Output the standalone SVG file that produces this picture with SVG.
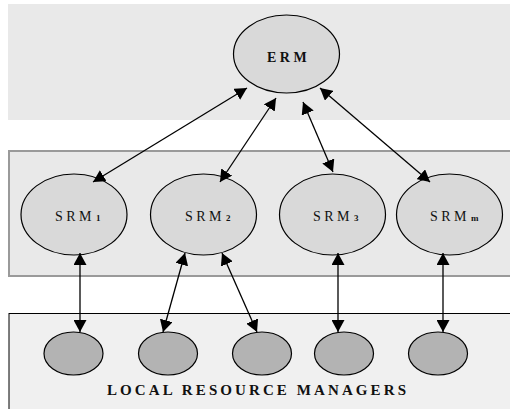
<svg xmlns="http://www.w3.org/2000/svg" width="510" height="409" viewBox="0 0 510 409">
<defs>
<marker id="ah" viewBox="0 0 12 13" refX="12" refY="6.5" markerWidth="12" markerHeight="13" markerUnits="userSpaceOnUse" orient="auto-start-reverse">
<path d="M0,0 L12,6.5 L0,13 Z" fill="#000"/>
</marker>
<style>
.big{fill:#d9d9d9;stroke:#000;stroke-width:1.2}
.small{fill:#b3b3b3;stroke:#000;stroke-width:1.2}
.lbl{font-family:"Liberation Serif",serif;font-size:14px;letter-spacing:3.5px;fill:#111}
.sub{font-size:9px;font-weight:bold;letter-spacing:0}
.conn line{stroke:#000;stroke-width:1.3;marker-start:url(#ah);marker-end:url(#ah)}
</style>
</defs>
<rect width="510" height="409" fill="#fff"/>
<rect id="panel-top" x="8" y="4" width="503" height="116" fill="#e9e9e9"/>
<rect id="panel-mid" x="9" y="151" width="503" height="125" fill="#e9e9e9" stroke="#9a9a9a" stroke-width="2"/>
<rect id="panel-bot" x="9" y="313.5" width="503" height="100" fill="#f0f0f0" stroke="#000" stroke-width="1"/>
<g id="erm"><ellipse class="big" cx="286.5" cy="54" rx="53" ry="39"/><text class="lbl" x="267" y="62" font-size="15" font-weight="bold" letter-spacing="2.5">ERM</text></g>
<g id="srm1"><ellipse class="big" cx="74" cy="214.5" rx="53" ry="40.5"/><text class="lbl" x="55" y="221">SRM<tspan class="sub" dx="1">1</tspan></text></g>
<g id="srm2"><ellipse class="big" cx="203.5" cy="214.5" rx="53" ry="40.5"/><text class="lbl" x="185" y="221">SRM<tspan class="sub" dx="1">2</tspan></text></g>
<g id="srm3"><ellipse class="big" cx="332.5" cy="214.5" rx="53" ry="40.5"/><text class="lbl" x="313" y="221">SRM<tspan class="sub" dx="1">3</tspan></text></g>
<g id="srmm"><ellipse class="big" cx="449.5" cy="214.5" rx="53" ry="40.5"/><text class="lbl" x="430" y="221">SRM<tspan class="sub" dx="1">m</tspan></text></g>
<g id="lrm1"><ellipse class="small" cx="73.5" cy="353.5" rx="29.5" ry="21.5"/></g>
<g id="lrm2"><ellipse class="small" cx="168" cy="353.5" rx="29.5" ry="21.5"/></g>
<g id="lrm3"><ellipse class="small" cx="262" cy="353.5" rx="29.5" ry="21.5"/></g>
<g id="lrm4"><ellipse class="small" cx="344" cy="353.5" rx="29.5" ry="21.5"/></g>
<g id="lrm5"><ellipse class="small" cx="438" cy="353.5" rx="29.5" ry="21.5"/></g>
<text id="lrm-label" x="107" y="395" font-family="Liberation Serif,serif" font-size="15" font-weight="bold" textLength="299" lengthAdjust="spacing" fill="#111">LOCAL RESOURCE MANAGERS</text>
<g class="conn" id="connectors">
<line x1="247" y1="88" x2="93" y2="182"/>
<line x1="276" y1="98" x2="220" y2="182"/>
<line x1="303" y1="102" x2="333" y2="172"/>
<line x1="320" y1="88" x2="430" y2="182"/>
<line x1="80" y1="253" x2="80" y2="332"/>
<line x1="185" y1="253" x2="163" y2="332"/>
<line x1="222" y1="253" x2="257" y2="332"/>
<line x1="338" y1="253" x2="338" y2="332"/>
<line x1="443" y1="253" x2="443" y2="332"/>
</g>
</svg>
